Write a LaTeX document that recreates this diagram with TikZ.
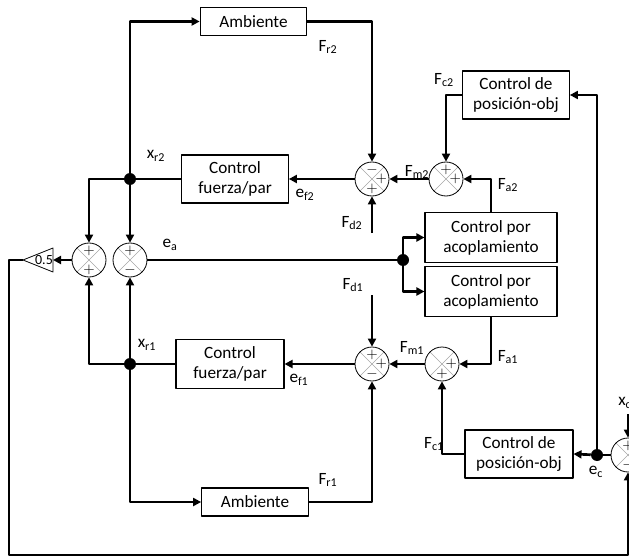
\documentclass[tikz,border=0pt]{standalone}
\usepackage{fontspec}
\setmainfont{Carlito}
\usetikzlibrary{shapes.geometric,arrows.meta,calc,positioning}
\tikzset{
  blk/.style={draw,line width=0.8pt,align=center,inner sep=1pt,font=\fontsize{12.9}{15}\selectfont},
  sumn/.style={draw,circle,line width=0.6pt,minimum size=25.5pt,inner sep=0pt,
    path picture={\draw[gray!70,line width=0.5pt](path picture bounding box.north west)--(path picture bounding box.south east)
    (path picture bounding box.north east)--(path picture bounding box.south west);}},
  sgn/.style={inner sep=0pt,font=\fontsize{10.5}{10.5}\selectfont},
  dotn/.style={circle,fill=black,minimum size=9pt,inner sep=0pt},
  lbl/.style={inner sep=0pt,font=\fontsize{12.9}{15}\selectfont},
  con/.style={line width=2pt},
  arr/.style={con,-{Triangle[length=6pt,width=6pt]}}
}
\begin{document}
\begin{tikzpicture}[x=0.75pt,y=-0.75pt,line join=round]
\useasboundingbox (0,0) rectangle (629,560);
\node[blk,minimum width=80pt,minimum height=21.5pt] (ambT) at (253.5,21.5) {Ambiente};
\node[blk,minimum width=80pt,minimum height=36pt] (fpT) at (235,179) {Control\\fuerza/par};
\node[blk,minimum width=80pt,minimum height=36pt] (cpT) at (516,95) {Control de\\posición-obj};
\node[blk,minimum width=99pt,minimum height=37pt] (acT) at (491,237.5) {Control por\\acoplamiento};
\node[blk,minimum width=99pt,minimum height=37pt] (acB) at (491,291.5) {Control por\\acoplamiento};
\node[blk,minimum width=81pt,minimum height=37pt] (fpB) at (230,364) {Control\\fuerza/par};
\node[blk,minimum width=81pt,minimum height=36pt] (cpB) at (519,454) {Control de\\posición-obj};
\node[blk,minimum width=80pt,minimum height=21pt] (ambB) at (255,502) {Ambiente};
\node[sumn] (sL) at (89,260) {};
\node[sumn] (sE) at (130,260) {};
\node[sumn] (sT1) at (372,179) {};
\node[sumn] (sT2) at (446,179) {};
\node[sumn] (sB1) at (372,364) {};
\node[sumn] (sB2) at (442,364) {};
\node[sumn] (sC) at (628,455) {};
\foreach \n/\d/\s in {sL/north/+,sL/south/+,sE/north/+,sE/south/-,sT1/north/-,sT1/east/+,sT1/south/+,sT2/north/+,sT2/east/+,sB1/north/+,sB1/east/+,sB1/south/-,sB2/east/+,sB2/south/+,sC/north/+,sC/south/-}
  \node[sgn] at ($(\n.center)!0.54!(\n.\d)$) {$\s$};
\node[dotn] (jT) at (130,179) {};
\node[dotn] (jB) at (130,364) {};
\node[dotn] (ja) at (403,260) {};
\node[dotn] (jc) at (597,455) {};
\coordinate (gin) at (53,260);
\coordinate (gout) at (23,260);
\draw[line width=0.6pt] (gout) -- (53,248) -- (53,272) -- cycle;
\node[inner sep=0pt,font=\fontsize{10.5}{10.5}\selectfont] (gain) at (44,260) {0.5};
\coordinate (fd2) at (372,233);
\coordinate (fd1) at (372,295);
\coordinate (xc) at (628,414);
\coordinate (fb1) at (9,260);
\coordinate (fb2) at (9,555);
\draw[arr] (jT) |- (ambT.west);
\draw[arr] (ambT.east) -| (sT1.north);
\draw[arr] (cpT.west) -| (sT2.north);
\draw[arr] (acT.north) |- (sT2.east);
\draw[arr] (sT2.west) -- (sT1.east);
\draw[arr] (sT1.west) -- (fpT.east);
\draw[arr] (fd2) -- (sT1.south);
\draw[con] (fpT.west) -- (jT);
\draw[arr] (jT) -| (sL.north);
\draw[arr] (jT) -- (sE.north);
\draw[con] (sE.east) -- (ja);
\draw[arr] (ja) |- (acT.west);
\draw[arr] (ja) |- (acB.west);
\draw[arr] (acB.south) |- (sB2.east);
\draw[arr] (sB2.west) -- (sB1.east);
\draw[arr] (fd1) -- (sB1.north);
\draw[arr] (sB1.west) -- (fpB.east);
\draw[con] (fpB.west) -- (jB);
\draw[arr] (jB) -| (sL.south);
\draw[arr] (jB) -- (sE.south);
\draw[arr] (jB) |- (ambB.west);
\draw[arr] (ambB.east) -| (sB1.south);
\draw[arr] (sL.west) -- (gin);
\draw[arr] (gout) -- (fb1) -- (fb2) -| (sC.south);
\draw[arr] (xc) -- (sC.north);
\draw[con] (sC.west) -- (jc);
\draw[arr] (jc) -- (cpB.east);
\draw[arr] (jc) |- (cpT.east);
\draw[arr] (cpB.west) -| (sB2.south);
\node[lbl] (lFr2) at (328,47) {F\textsubscript{r2}};
\node[lbl] (lFc2) at (444,80) {F\textsubscript{c2}};
\node[lbl] (lxr2) at (156,156) {x\textsubscript{r2}};
\node[lbl] (lFm2) at (417,172) {F\textsubscript{m2}};
\node[lbl] (lFa2) at (508,185) {F\textsubscript{a2}};
\node[lbl] (lef2) at (305,195) {e\textsubscript{f2}};
\node[lbl] (lFd2) at (352,223) {F\textsubscript{d2}};
\node[lbl] (lea) at (170,245) {e\textsubscript{a}};
\node[lbl] (lFd1) at (353,285) {F\textsubscript{d1}};
\node[lbl] (lxr1) at (147,345) {x\textsubscript{r1}};
\node[lbl] (lFm1) at (412,348) {F\textsubscript{m1}};
\node[lbl] (lFa1) at (508,357) {F\textsubscript{a1}};
\node[lbl] (lef1) at (299,380) {e\textsubscript{f1}};
\node[lbl,anchor=west] (lxc) at (618,403) {x\textsubscript{c}};
\node[lbl] (lFc1) at (434,444) {F\textsubscript{c1}};
\node[lbl] (lec) at (596,472) {e\textsubscript{c}};
\node[lbl] (lFr1) at (328,480) {F\textsubscript{r1}};
\end{tikzpicture}
\end{document}
